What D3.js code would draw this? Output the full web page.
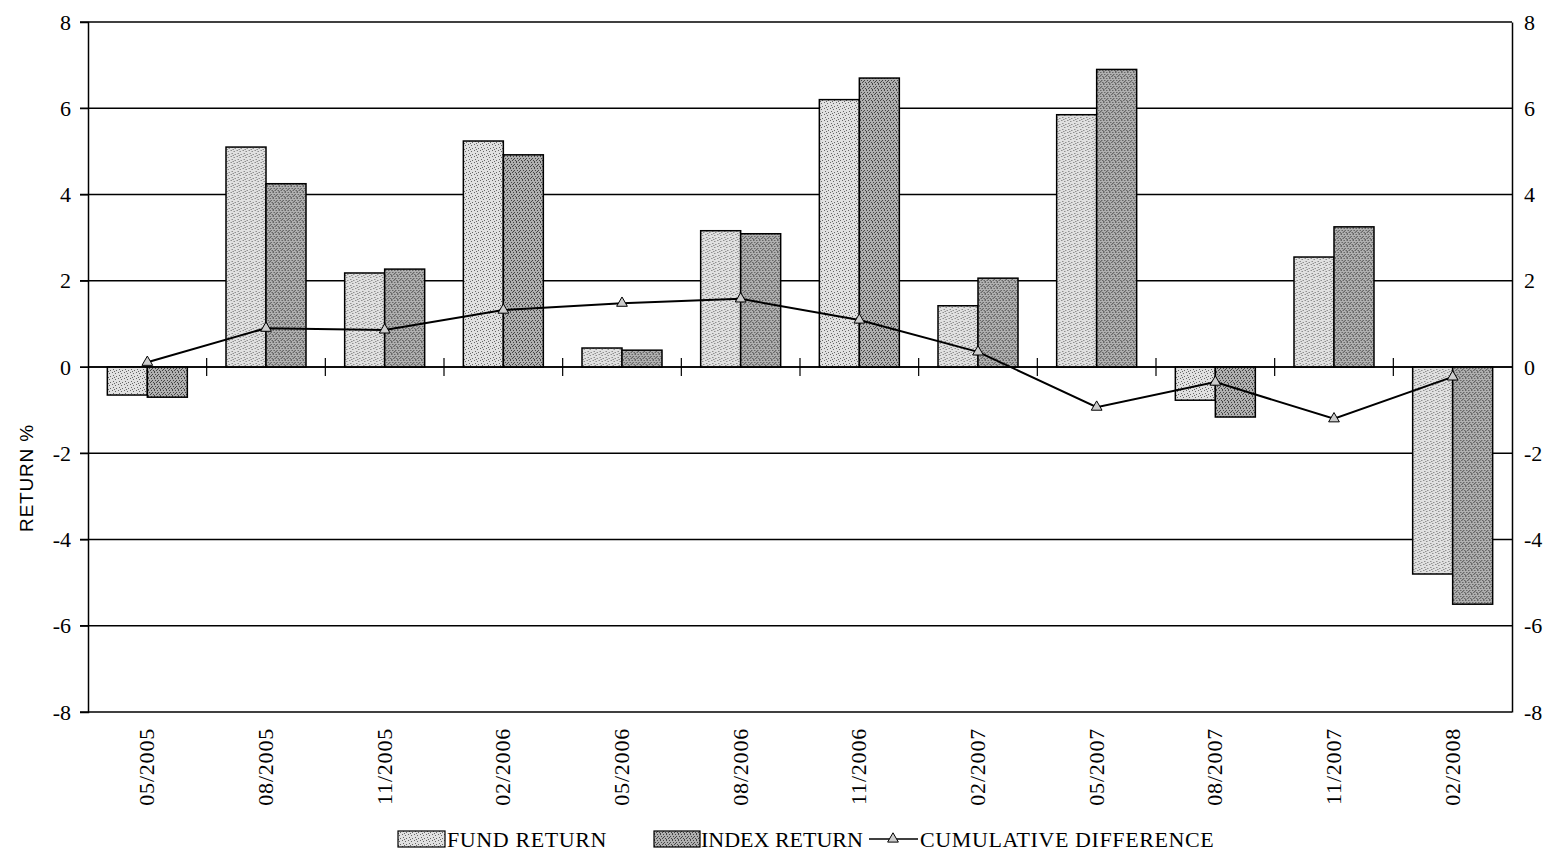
<!DOCTYPE html>
<html>
<head>
<meta charset="utf-8">
<script src="https://cdn.jsdelivr.net/npm/d3@7"></script>
<style>
  html, body { margin: 0; padding: 0; background: #fff; }
  svg { display: block; }
</style>
</head>
<body>
<svg id="chart" width="1554" height="857"></svg>
<script>
const categories = ["05/2005","08/2005","11/2005","02/2006","05/2006","08/2006","11/2006","02/2007","05/2007","08/2007","11/2007","02/2008"];
const fundReturn  = [-0.65, 5.1, 2.18, 5.24, 0.44, 3.16, 6.2, 1.42, 5.85, -0.77, 2.55, -4.8];
const indexReturn = [-0.7, 4.25, 2.27, 4.92, 0.39, 3.09, 6.7, 2.06, 6.9, -1.16, 3.25, -5.5];
const cumulativeDiff = [0.11, 0.9, 0.86, 1.32, 1.48, 1.58, 1.09, 0.35, -0.93, -0.35, -1.2, -0.23];
const yTicks = [-8, -6, -4, -2, 0, 2, 4, 6, 8];
const seriesNames = ["FUND RETURN", "INDEX RETURN", "CUMULATIVE DIFFERENCE"];

const svg = d3.select("#chart");
const mLeft = 88, mRight = 1512, mTop = 22, mBottom = 712;
const serif = "'Liberation Serif', 'Times New Roman', serif";
const fmt = d => String(d);

// Stipple patterns (deterministic dot grid)
const defs = svg.append("defs");
function stipple(id, bg, dot, pts) {
  const p = defs.append("pattern").attr("id", id).attr("patternUnits", "userSpaceOnUse")
    .attr("width", 6).attr("height", 6);
  p.append("rect").attr("width", 6).attr("height", 6).attr("fill", bg);
  pts.forEach(([a, b]) => p.append("rect").attr("x", a).attr("y", b).attr("width", 1).attr("height", 1).attr("fill", dot));
}
stipple("fundPat", "#e0e0e0", "#666", [[0,0],[3,1],[1,3],[4,4],[2,5]]);
stipple("indexPat", "#b0b0b0", "#444", [[0,0],[3,0],[1,2],[4,2],[2,4],[5,4],[0,5],[3,3]]);

const x = d3.scaleBand().domain(categories).range([mLeft, mRight]).padding(0);
const inner = d3.scaleBand().domain(["fund", "index"]).range([x.bandwidth()/2 - 40, x.bandwidth()/2 + 40]).padding(0);
const y = d3.scaleLinear().domain([-8, 8]).range([mBottom, mTop]);

// Gridlines
svg.append("g").selectAll("line").data(yTicks).join("line")
  .attr("x1", mLeft - 8).attr("x2", mRight)
  .attr("y1", d => y(d)).attr("y2", d => y(d))
  .attr("stroke", "#000").attr("stroke-width", 1.5);

// Left axis
const yAxisL = svg.append("g").attr("transform", `translate(${mLeft},0)`)
  .call(d3.axisLeft(y).tickValues(yTicks).tickSize(8).tickFormat(fmt));
yAxisL.select(".domain").attr("stroke", "#000").attr("stroke-width", 1.5);
yAxisL.selectAll("text").attr("font-family", serif).attr("font-size", 22).attr("fill", "#000").attr("x", -17);

// Right axis
const yAxisR = svg.append("g").attr("transform", `translate(${mRight},0)`)
  .call(d3.axisRight(y).tickValues(yTicks).tickSize(0).tickFormat(fmt));
yAxisR.select(".domain").attr("stroke", "#000").attr("stroke-width", 1.5);
yAxisR.selectAll("text").attr("font-family", serif).attr("font-size", 22).attr("fill", "#000").attr("x", 12);

// Bars
const groups = svg.append("g").selectAll("g").data(categories).join("g")
  .attr("transform", d => `translate(${x(d)},0)`);
groups.append("rect")
  .attr("x", inner("fund")).attr("width", inner.bandwidth())
  .attr("y", (d, i) => y(Math.max(0, fundReturn[i])))
  .attr("height", (d, i) => Math.abs(y(fundReturn[i]) - y(0)))
  .attr("fill", "url(#fundPat)").attr("stroke", "#000").attr("stroke-width", 1.5);
groups.append("rect")
  .attr("x", inner("index")).attr("width", inner.bandwidth())
  .attr("y", (d, i) => y(Math.max(0, indexReturn[i])))
  .attr("height", (d, i) => Math.abs(y(indexReturn[i]) - y(0)))
  .attr("fill", "url(#indexPat)").attr("stroke", "#000").attr("stroke-width", 1.5);

// Zero axis with boundary ticks
svg.append("line").attr("x1", mLeft).attr("x2", mRight).attr("y1", y(0)).attr("y2", y(0))
  .attr("stroke", "#000").attr("stroke-width", 1.5);
svg.append("g").selectAll("line").data(categories.slice(1)).join("line")
  .attr("x1", d => x(d)).attr("x2", d => x(d))
  .attr("y1", y(0) - 9).attr("y2", y(0) + 9)
  .attr("stroke", "#000").attr("stroke-width", 1.2);

// Cumulative difference line
const cx = d => x(d) + x.bandwidth() / 2;
const line = d3.line().x((d, i) => cx(categories[i])).y(d => y(d));
svg.append("path").datum(cumulativeDiff).attr("d", line)
  .attr("fill", "none").attr("stroke", "#000").attr("stroke-width", 2);
const tri = d3.symbol().type(d3.symbolTriangle).size(50);
svg.append("g").selectAll("path").data(cumulativeDiff).join("path")
  .attr("transform", (d, i) => `translate(${cx(categories[i])},${y(d)})`)
  .attr("d", tri).attr("fill", "#ccc").attr("stroke", "#000").attr("stroke-width", 1);

// X labels
svg.append("g").selectAll("text").data(categories).join("text")
  .attr("transform", d => `translate(${cx(d) + 7},728) rotate(-90)`)
  .attr("text-anchor", "end")
  .attr("font-family", serif).attr("font-size", 22).attr("letter-spacing", 0.8)
  .attr("fill", "#000").text(d => d);

// Y axis title
svg.append("text").attr("transform", "translate(33,478) rotate(-90)")
  .attr("text-anchor", "middle")
  .attr("font-family", "'Liberation Sans', Arial, sans-serif").attr("font-size", 19)
  .attr("letter-spacing", 0.8).attr("fill", "#000").text("RETURN %");

// Legend
const lg = svg.append("g");
lg.append("rect").attr("x", 398).attr("y", 831).attr("width", 47).attr("height", 16)
  .attr("fill", "url(#fundPat)").attr("stroke", "#000").attr("stroke-width", 1.2);
lg.append("text").attr("x", 447).attr("y", 847).attr("font-family", serif).attr("font-size", 22)
  .attr("letter-spacing", 0.6).attr("fill", "#000").text(seriesNames[0]);
lg.append("rect").attr("x", 654).attr("y", 831).attr("width", 46).attr("height", 16)
  .attr("fill", "url(#indexPat)").attr("stroke", "#000").attr("stroke-width", 1.2);
lg.append("text").attr("x", 701).attr("y", 847).attr("font-family", serif).attr("font-size", 22)
  .attr("fill", "#000").text(seriesNames[1]);
lg.append("line").attr("x1", 869).attr("x2", 918).attr("y1", 839).attr("y2", 839)
  .attr("stroke", "#000").attr("stroke-width", 1.5);
lg.append("path").attr("transform", "translate(893,839)").attr("d", tri)
  .attr("fill", "#ccc").attr("stroke", "#000").attr("stroke-width", 1);
lg.append("text").attr("x", 920).attr("y", 847).attr("font-family", serif).attr("font-size", 22)
  .attr("letter-spacing", 0.6).attr("fill", "#000").text(seriesNames[2]);
</script>
</body>
</html>
